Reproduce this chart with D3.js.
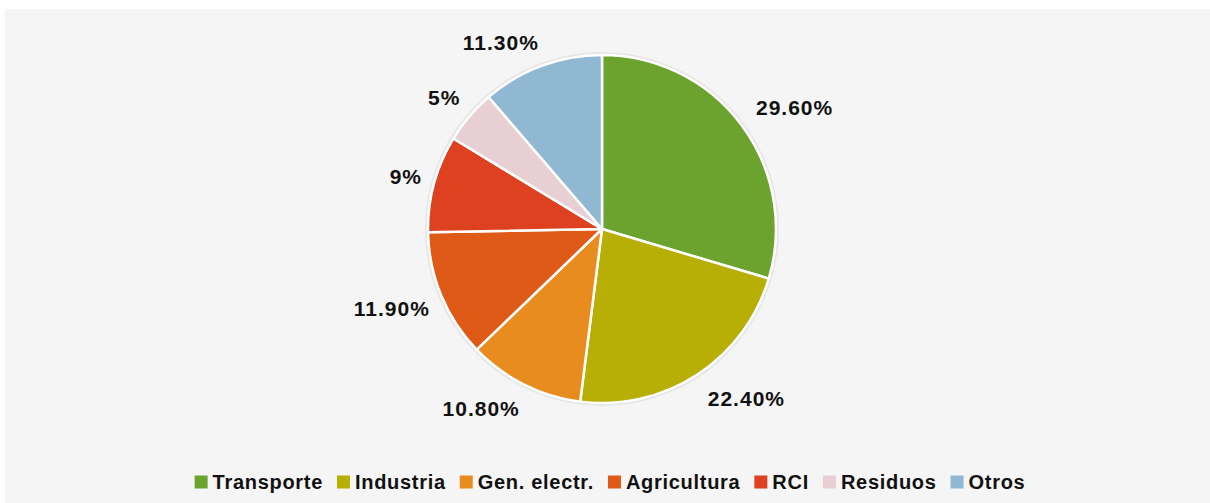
<!DOCTYPE html>
<html>
<head>
<meta charset="utf-8">
<script src="https://cdn.jsdelivr.net/npm/d3@7"></script>
<style>
  html, body { margin: 0; padding: 0; background: #ffffff; }
  svg { display: block; }
  text { font-family: "Liberation Sans", Arial, sans-serif; fill: #111; }
</style>
</head>
<body>
<svg id="chart" width="1210" height="503"></svg>
<script>
// Emission shares by sector (percent)
const categories = ["Transporte", "Industria", "Gen. electr.", "Agricultura", "RCI", "Residuos", "Otros"];
const values = [29.6, 22.4, 10.8, 11.9, 9, 5, 11.3];
const valueLabels = ["29.60%", "22.40%", "10.80%", "11.90%", "9%", "5%", "11.30%"];
const colors = ["#6ba32e", "#b7ae06", "#e88c20", "#e05a17", "#dd4120", "#e8cfd3", "#91b8d2"];

const W = 1210, H = 503;
const svg = d3.select("#chart");

// panel background
svg.append("rect")
  .attr("x", 5).attr("y", 9)
  .attr("width", W - 5).attr("height", H - 9)
  .attr("fill", "#f5f5f5");

const cx = 602, cy = 229, R = 174;
const g = svg.append("g").attr("transform", `translate(${cx},${cy})`);

const data = categories.map((c, i) => ({ name: c, value: values[i], label: valueLabels[i], color: colors[i] }));
const pie = d3.pie().sort(null).value(d => d.value);
const arcs = pie(data);
const arc = d3.arc().innerRadius(0).outerRadius(R);

// soft ring around the pie
g.append("circle")
  .attr("r", R + 1.5)
  .attr("fill", "none")
  .attr("stroke", "#e6e6e6")
  .attr("stroke-width", 3);

g.selectAll("path.slice")
  .data(arcs)
  .enter().append("path")
  .attr("class", "slice")
  .attr("d", arc)
  .attr("fill", d => d.data.color)
  .attr("stroke", "#ffffff")
  .attr("stroke-width", 2.5)
  .attr("stroke-linejoin", "round");

// value labels placed just outside each slice
const labelR = R + 15;
const clamp = (v) => Math.max(-1, Math.min(1, v));
const labels = g.selectAll("text.val")
  .data(arcs)
  .enter().append("text")
  .attr("class", "val")
  .attr("font-size", 21)
  .attr("font-weight", "bold")
  .attr("letter-spacing", 1)
  .attr("text-anchor", "middle")
  .attr("dominant-baseline", "central")
  .text(d => d.data.label);

labels.each(function(d) {
  const a = (d.startAngle + d.endAngle) / 2;
  const sx = Math.sin(a), sy = -Math.cos(a);
  const w = this.getComputedTextLength();
  const h = 20;
  const x = labelR * sx + clamp(sx * 3) * (w / 2) + 2.5;
  const y = labelR * sy + clamp(sy * 1.6) * (h / 2) + 1;
  d3.select(this).attr("x", x).attr("y", y);
});

// legend
const legend = svg.append("g").attr("class", "legend");
const sq = 13, textGap = 5, itemGap = 14, legendY = 482;
let xPos = 0;
const items = legend.selectAll("g.item")
  .data(data)
  .enter().append("g")
  .attr("class", "item");

items.append("rect")
  .attr("width", sq).attr("height", sq)
  .attr("y", legendY - sq / 2)
  .attr("fill", d => d.color);

items.append("text")
  .attr("x", sq + textGap)
  .attr("y", legendY)
  .attr("dominant-baseline", "central")
  .attr("font-size", 20)
  .attr("font-weight", "bold")
  .attr("letter-spacing", 0.7)
  .text(d => d.name);

items.each(function() {
  const t = d3.select(this).select("text").node();
  const w = sq + textGap + t.getComputedTextLength();
  d3.select(this).attr("transform", `translate(${xPos},0)`);
  xPos += w + itemGap;
});
const totalW = xPos - itemGap;
legend.attr("transform", `translate(${610 - totalW / 2},0)`);
</script>
</body>
</html>
